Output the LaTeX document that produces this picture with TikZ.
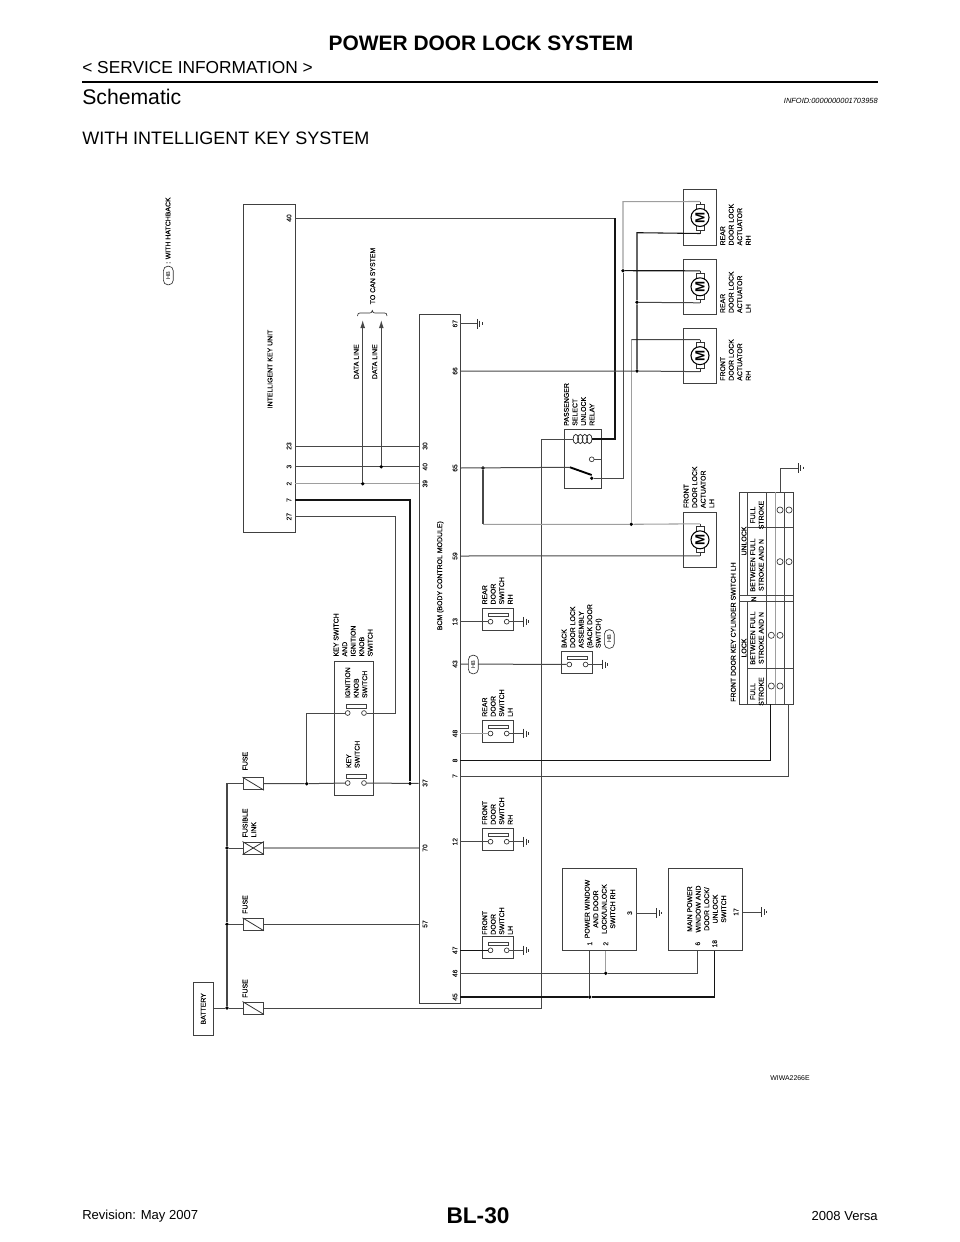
\documentclass[tikz,border=0pt]{standalone}
\usepackage{fontspec}
\setmainfont{Liberation Sans}
\newfontfamily\lblfont[FakeBold=0.25]{Liberation Sans}
\usetikzlibrary{arrows.meta}
\newcommand\smallf{\lblfont\fontsize{5.2}{6.4}\selectfont}
\tikzset{
  boxst/.style={draw=black!75,line width=.7pt,inner sep=0pt,fill=none},
  wm/.style={draw=black!72,line width=.75pt},
  wd/.style={draw=black!92,line width=.8pt},
  wl/.style={draw=black!38,line width=.8pt},
  lbl/.style={rotate=90,anchor=north west,inner sep=0pt,align=left,font=\smallf,text=black},
  ctr/.style={rotate=90,anchor=center,inner sep=0pt,align=center,font=\smallf,text=black},
  pin/.style={rotate=90,anchor=center,inner sep=0pt,font=\lblfont\fontsize{5}{6}\selectfont,text=black!90},
  dot/.style={circle,fill=black,draw=none,inner sep=0pt,minimum size=2.8pt},
  term/.style={circle,draw=black!80,line width=.5pt,fill=white,inner sep=0pt,minimum size=3.6pt},
  hb/.style={rounded corners=3.4pt,draw=black!80,line width=.5pt,fill=white,inner sep=0pt,minimum width=14pt,minimum height=7.4pt,rotate=90,font=\fontsize{4.2}{5}\selectfont},
  slat/.style={draw=black!75,line width=.5pt,fill=white},
  tline/.style={draw=black!72,line width=.6pt},
}
% box from corners: #1 name, #2 x1, #3 y1, #4 x2, #5 y2
\newcommand\bx[5]{\node[boxst,minimum width={((#4)-(#2))*.75pt},minimum height={((#5)-(#3))*.75pt}] (#1) at ({((#2)+(#4))/2},{((#3)+(#5))/2}) {};}
% ground bars at x #1, y #2
\newcommand\gnd[2]{\draw[black!80,line width=.55pt] (#1,#2-4.8) -- (#1,#2+4.8) (#1+2.6,#2-3) -- (#1+2.6,#2+3) (#1+5,#2-1.3) -- (#1+5,#2+1.3);}
% door-type switch: #1 id, #2 left x, #3 y of circles, #4 label, #5 wire style, #6 pin node
\newcommand\dsw[6]{%
  \bx{#1}{#2}{#3-13.4}{#2+31.4}{#3+8.6}
  \draw[slat] (#2+6,#3-8.4) rectangle (#2+26.4,#3-5);
  \coordinate (#1g) at (#2+41,#3);
  \draw[#5] (#6) -- (#1l);
  \draw[wm] (#1r) -- (#1g);
  \gnd{#2+41}{#3}
}
% actuator: #1 id, #2 top, #3 bottom; motor centre x=700
\newcommand\actu[3]{%
  \bx{#1}{683.3}{#2}{716.7}{#3}
  \coordinate (#1m) at (700,{(#2+#3)/2});
  \coordinate (#1t) at (700,{(#2+#3)/2-16});
  \coordinate (#1b) at (700,{(#2+#3)/2+16});
  \draw[black!80,line width=.5pt] (#1t) -- (#1b);
  \draw[black!80,line width=.5pt,fill=white] (696,{(#2+#3)/2-13}) rectangle (704,{(#2+#3)/2+13});
  \node[circle,draw=black,line width=.8pt,fill=white,inner sep=0pt,minimum size=13.5pt,rotate=90,font=\bfseries\fontsize{10}{11}\selectfont] (#1c) at (#1m) {M};
}
% fuse: #1 name, #2 y
\newcommand\fuse[2]{%
  \bx{#1}{243}{#2-6}{263.5}{#2+6}
  \draw[black!80,line width=.6pt] (#1.north west) -- (#1.south east);
}
\begin{document}
\begin{tikzpicture}[x=.75pt,y=-.75pt]
\useasboundingbox (0,0) rectangle (960,1242);
% page frame text
\node[inner sep=0pt,font=\bfseries\fontsize{15.7}{18}\selectfont] (title) at (481,43) {POWER DOOR LOCK SYSTEM};
\node[inner sep=0pt,anchor=west,font=\fontsize{13}{15}\selectfont] (svc) at (82,68) {< SERVICE INFORMATION >};
\draw[black,line width=1.9pt] (82,82) -- (878,82);
\node[inner sep=0pt,anchor=west,font=\fontsize{15.9}{18}\selectfont] (sch) at (82,97) {Schematic};
\node[inner sep=0pt,anchor=east,font=\itshape\fontsize{5.6}{7}\selectfont] (info) at (878,101) {INFOID:0000000001703958};
\node[inner sep=0pt,anchor=west,font=\fontsize{13.5}{16}\selectfont] (wik) at (82,138) {WITH INTELLIGENT KEY SYSTEM};
\node[inner sep=0pt,font=\bfseries\fontsize{17}{20}\selectfont] (page) at (478,1216) {BL-30};
\node[inner sep=0pt,anchor=west,font=\fontsize{9.8}{12}\selectfont] (rev) at (82,1216) {Revision: May 2007};
\node[inner sep=0pt,anchor=east,font=\fontsize{9.8}{12}\selectfont] (ver) at (878,1216) {2008 Versa};
\node[inner sep=0pt,font=\fontsize{5.2}{6}\selectfont] (wiwa) at (790,1078) {WIWA2266E};

% legend
\node[hb] (hbleg) at (168.3,275.5) {HB};
\node[ctr,anchor=west] (hbtxt) at (168,264) {: WITH HATCHBACK};

% boxes
\bx{iku}{243}{204}{295}{532}
\bx{bcm}{419}{314.7}{460}{1003}
\bx{batt}{193.3}{982}{213.3}{1035.3}
\bx{keyb}{334.7}{661}{373.7}{795.7}
\bx{relay}{564.3}{429.3}{601.7}{488.3}
\bx{pwin}{562.3}{868.7}{636}{950.7}
\bx{mpw}{668.7}{868.7}{742.7}{950.7}

\node[ctr] (ikut) at (270,369) {INTELLIGENT KEY UNIT};
\node[ctr] (bcmt) at (440.3,575.7) {BCM (BODY CONTROL MODULE)};
\node[ctr] (batt2) at (203.3,1008.8) {BATTERY};
\node[ctr] (dl1) at (356.3,361.7) {DATA LINE};
\node[ctr] (dl2) at (374.7,361.7) {DATA LINE};
\node[ctr] (can) at (372.7,276) {TO CAN SYSTEM};
\node[lbl] (kst) at (333.4,656.7) {KEY SWITCH\\AND\\IGNITION\\KNOB\\SWITCH};
\node[lbl] (ignt) at (345,698.3) {IGNITION\\KNOB\\SWITCH};
\node[lbl] (keyt) at (346,768.3) {KEY\\SWITCH};
\node[lbl] (fu1) at (242.4,770.7) {FUSE};
\node[lbl] (fl) at (242.4,837.7) {FUSIBLE\\LINK};
\node[lbl] (fu2) at (242.4,914) {FUSE};
\node[lbl] (fu3) at (242.4,998) {FUSE};
\node[lbl] (rl) at (563.7,426) {PASSENGER\\SELECT\\UNLOCK\\RELAY};
\node[lbl] (la1) at (720,245.7) {REAR\\DOOR LOCK\\ACTUATOR\\RH};
\node[lbl] (la2) at (720,313.3) {REAR\\DOOR LOCK\\ACTUATOR\\LH};
\node[lbl] (la3) at (720,381) {FRONT\\DOOR LOCK\\ACTUATOR\\RH};
\node[lbl] (la4) at (683.4,508.3) {FRONT\\DOOR LOCK\\ACTUATOR\\LH};
\node[lbl] (rr) at (482,604.7) {REAR\\DOOR\\SWITCH\\RH};
\node[lbl] (rlh) at (482,717) {REAR\\DOOR\\SWITCH\\LH};
\node[lbl] (frh) at (482,825) {FRONT\\DOOR\\SWITCH\\RH};
\node[lbl] (flh) at (482,935) {FRONT\\DOOR\\SWITCH\\LH};
\node[lbl] (bk) at (561.4,648.3) {BACK\\DOOR LOCK\\ASSEMBLY\\(BACK DOOR\\SWITCH)};
\node[hb] (hbbk) at (609.3,639) {HB};
\node[ctr] (pwt) at (600,909) {POWER WINDOW\\AND DOOR\\LOCK/UNLOCK\\SWITCH RH};
\node[ctr] (mpt) at (706.7,909) {MAIN POWER\\WINDOW AND\\DOOR LOCK/\\UNLOCK\\SWITCH};

% pin labels
\node[pin] (ik40) at (289,218) {40};
\node[pin] (ik23) at (289,446) {23};
\node[pin] (ik3) at (289,466.7) {3};
\node[pin] (ik2) at (289,483.7) {2};
\node[pin] (ik7) at (289,500) {7};
\node[pin] (ik27) at (289,516.7) {27};
\node[pin] (b30) at (425,446) {30};
\node[pin] (b40) at (425,466.7) {40};
\node[pin] (b39) at (425,483.7) {39};
\node[pin] (b37) at (425,783) {37};
\node[pin] (b70) at (425,848) {70};
\node[pin] (b57) at (425,924) {57};
\node[pin] (b67) at (455,323.7) {67};
\node[pin] (b66) at (455,371) {66};
\node[pin] (b65) at (455,468) {65};
\node[pin] (b59) at (455,556) {59};
\node[pin] (b13) at (455,621.7) {13};
\node[pin] (b43) at (455,664) {43};
\node[pin] (b48) at (455,733.5) {48};
\node[pin] (b8) at (455,760.5) {8};
\node[pin] (b7) at (455,776) {7};
\node[pin] (b12) at (455,841.7) {12};
\node[pin] (b47) at (455,950.3) {47};
\node[pin] (b46) at (455,973.3) {46};
\node[pin] (b45) at (455,997) {45};
\node[pin] (p1) at (589.7,943.7) {1};
\node[pin] (p2) at (605.7,943.7) {2};
\node[pin] (p3) at (629.7,913) {3};
\node[pin] (m6) at (697.7,943.7) {6};
\node[pin] (m18) at (714.7,943.7) {18};
\node[pin] (m17) at (736,912) {17};

% key switch
\draw[slat] (346,704) rectangle (366.7,708);
\draw[slat] (346,774.3) rectangle (366.7,778.3);
\node[term] (ignl) at (347.7,713) {};
\node[term] (ignr) at (364,713) {};
\node[term] (keyl) at (347.7,783) {};
\node[term] (keyr) at (364,783) {};

% fuses and battery bus
\fuse{f1}{783.7}
\fuse{f3}{924.3}
\fuse{f4}{1008}
\bx{fl1}{243}{842}{263.5}{854}
\draw[black!80,line width=.6pt] (fl1.south west) -- (fl1.north east) (fl1.north west) -- (fl1.south east);
\coordinate (bustop) at (227,783.7);
\node[dot] (bus2) at (227,848) {};
\node[dot] (bus3) at (227,924.3) {};
\node[dot] (bus4) at (227,1008) {};
\draw[wm,line width=.85pt] (f1.west) -- (bustop) -- (bus2) -- (bus3) -- (bus4);
\draw[wm] (batt.east |- bus4) -- (bus4) -- (f4.west);
\draw[wm] (bus3) -- (f3.west);
\draw[wm] (bus2) -- (fl1.west);
\draw[wl] (fl1.east) -- (bcm.west |- fl1);
\draw[wm] (f3.east) -- (bcm.west |- f3);

% key switch wires
\node[dot] (j307) at (306.7,783.7) {};
\node[dot] (j410) at (410,783.4) {};
\coordinate (c307) at (306.7,713);
\draw[wm] (f1.east) -- (j307) -- (keyl);
\draw[wm] (j307) -- (c307) -- (ignl);
\draw[wm] (keyr) -- (j410) -- (bcm.west |- j410);
\coordinate (c7a) at (410,500);
\draw[wd] (iku.east |- ik7) -- (c7a) -- (j410);
\coordinate (c27a) at (395,516.7);
\coordinate (c27b) at (395,713);
\draw[wm] (iku.east |- ik27) -- (c27a) -- (c27b) -- (ignr);

% data lines
\draw[wm] (iku.east |- ik23) -- (bcm.west |- ik23);
\draw[wm] (iku.east |- ik3) -- (bcm.west |- ik3);
\draw[wl] (iku.east |- ik2) -- (bcm.west |- ik2);
\node[dot] (dj1) at (362.7,483.7) {};
\node[dot] (dj2) at (381.3,466.7) {};
\coordinate (dt1) at (362.7,320);
\coordinate (dt2) at (381.3,320);
\draw[wm,-{Latex[length=6pt,width=3.6pt]}] (dj1) -- (dt1);
\draw[wm,-{Latex[length=6pt,width=3.6pt]}] (dj2) -- (dt2);
\draw[black!80,line width=.5pt] (357.5,316) .. controls (357.5,313.5) and (358.5,313) .. (360,313) -- (369.5,313) .. controls (371,313) and (372,312.5) .. (372.3,310.5) .. controls (372.6,312.5) and (373.5,313) .. (375,313) -- (384.5,313) .. controls (386,313) and (387,313.5) .. (387,316);

% ground of 67
\coordinate (g67) at (477,323.7);
\draw[wm] (bcm.east |- b67) -- (g67);
\gnd{477}{323.7}

% actuators
\actu{a1}{189.7}{245.3}
\actu{a2}{259.3}{314.3}
\actu{a3}{328}{383.3}
\actu{a4}{512.3}{567.3}

% relay
\foreach \i in {0,1,2,3}{\draw[black!85,line width=.55pt] (575.8+\i*4.5,439) ellipse (2.7 and 4.6);}
\coordinate (coilL) at (573,439);
\coordinate (coilR) at (592,439);
\coordinate (armA) at (570,467.3);
\coordinate (armB) at (591.7,475);
\draw[black,line width=1.4pt] (armA) -- (armB);
\node[dot] (armdot) at (591.7,478.3) {};
\node[term] (nc) at (591.7,459.3) {};
\draw[wm] (nc) -- (relay.east |- nc);

% wires to relay and actuators
\coordinate (r40a) at (615,218);
\coordinate (r40b) at (615,439);
\draw[wm] (iku.east |- ik40) -- (r40a);
\draw[wd,line width=.9pt] (r40a) -- (r40b) -- (coilR);
\coordinate (bat1) at (541.3,1008);
\coordinate (bat2) at (541.3,439);
\draw[wm] (f4.east) -- (bat1) -- (bat2) -- (coilL);
\node[dot] (j483) at (483,468) {};
\coordinate (c483) at (483,524.3);
\draw[wm] (bcm.east |- b65) -- (armA);
\draw[wm,line width=.9pt] (j483) -- (c483);
\node[dot] (j631) at (631.3,524.3) {};
\draw[wl] (c483) -- (j631) -- (a4t);
\coordinate (c631t) at (631.3,339.5);
\draw[wl] (j631) -- (c631t);
\draw[wm] (c631t) -- (a3t);
\draw[wm] (bcm.east |- b59) -- (a4b);
\coordinate (c623b) at (623,478.3);
\coordinate (c623t) at (623,201.7);
\node[dot] (j623) at (623,270.7) {};
\draw[wm] (armdot) -- (c623b) -- (j623);
\draw[wl] (j623) -- (c623t) -- (a1t);
\draw[wd] (j623) -- (a2t);
\node[dot] (j637a) at (637,371) {};
\node[dot] (j637b) at (637,302.3) {};
\coordinate (c637t) at (637,232.7);
\draw[wm] (bcm.east |- b66) -- (j637a) -- (a3b);
\draw[wd] (j637a) -- (j637b) -- (c637t) -- (a1b);
\draw[wm] (j637b) -- (a2b);

% door switches
\node[term] (s13l) at (490.5,621.7) {}; \node[term] (s13r) at (506.7,621.7) {};
\dsw{s13}{482.3}{621.7}{}{wm}{bcm.east |- b13}
\node[term] (s48l) at (490.5,733.5) {}; \node[term] (s48r) at (506.7,733.5) {};
\dsw{s48}{482.3}{733.5}{}{wl}{bcm.east |- b48}
\node[term] (s12l) at (490.5,841.7) {}; \node[term] (s12r) at (506.7,841.7) {};
\dsw{s12}{482.3}{841.7}{}{wm}{bcm.east |- b12}
\node[term] (s47l) at (490.5,950.3) {}; \node[term] (s47r) at (506.7,950.3) {};
\dsw{s47}{482.3}{950.3}{}{wd}{bcm.east |- b47}
\node[term] (s43l) at (569.3,664.5) {}; \node[term] (s43r) at (585.6,664.5) {};
\dsw{s43}{561.3}{664.5}{}{wm}{bcm.east |- b43}
\node[hb] (hbw) at (473.3,664.5) {HB};

% power window switches
\coordinate (g3) at (656.7,913);
\draw[wm] (pwin.east |- p3) -- (g3);
\gnd{656.7}{913}
\coordinate (g17) at (761.7,912);
\draw[wm] (mpw.east |- m17) -- (g17);
\gnd{761.7}{912}
\node[dot] (j46) at (605.7,973.3) {};
\coordinate (c46) at (697.7,973.3);
\draw[wm] (bcm.east |- b46) -- (j46) -- (c46) -- (mpw.south -| m6);
\draw[wl] (j46) -- (pwin.south -| p2);
\node[dot] (j45) at (589.7,997) {};
\coordinate (c45) at (714.7,997);
\draw[wd,line width=.95pt] (bcm.east |- b45) -- (j45) -- (c45) -- (mpw.south -| m18);
\draw[wm,line width=.9pt] (j45) -- (pwin.south -| p1);

% key cylinder table
\bx{tbl}{739.3}{492}{793.3}{704}
\draw[tline] (747.7,492) -- (747.7,595.3) (747.7,601.7) -- (747.7,704);
\draw[tline] (766,492) -- (766,704);
\draw[wl,line width=.6pt] (775.7,492) -- (775.7,704);
\draw[tline] (784.7,492) -- (784.7,704);
\draw[tline] (747.7,527.7) -- (793.3,527.7);
\draw[tline] (739.3,595.3) -- (793.3,595.3);
\draw[tline] (739.3,601.7) -- (793.3,601.7);
\draw[tline] (747.7,668.3) -- (793.3,668.3);
\node[ctr] (tt) at (733.3,632) {FRONT DOOR KEY CYLINDER SWITCH LH};
\node[ctr] (tu) at (744,541) {UNLOCK};
\node[ctr] (tl) at (744,648) {LOCK};
\node[ctr] (tf1) at (757,515) {FULL\\STROKE};
\node[ctr] (tb1) at (757,565) {BETWEEN FULL\\STROKE AND N};
\node[ctr] (tn) at (753.7,599) {N};
\node[ctr] (tb2) at (757,638) {BETWEEN FULL\\STROKE AND N};
\node[ctr] (tf2) at (757,691.5) {FULL\\STROKE};
\foreach \nm/\xa/\xb/\yy in {ca/780/789/510,cb/780/789/561.7,cc/771.3/780/635.3,cd/771.3/780/686}{
  \node[term,minimum size=4.6pt] (\nm1) at (\xa,\yy) {};
  \node[term,minimum size=4.6pt] (\nm2) at (\xb,\yy) {};
}
\coordinate (tg) at (798,468);
\coordinate (tgc) at (780.3,468);
\draw[wm] (tbl.north -| tgc) -- (tgc) -- (tg);
\gnd{798}{468}
\coordinate (c8) at (770.7,760.5);
\draw[wd] (bcm.east |- b8) -- (c8) -- (tbl.south -| c8);
\coordinate (c7) at (788.3,776);
\draw[wm] (bcm.east |- b7) -- (c7) -- (tbl.south -| c7);
\end{tikzpicture}
\end{document}
